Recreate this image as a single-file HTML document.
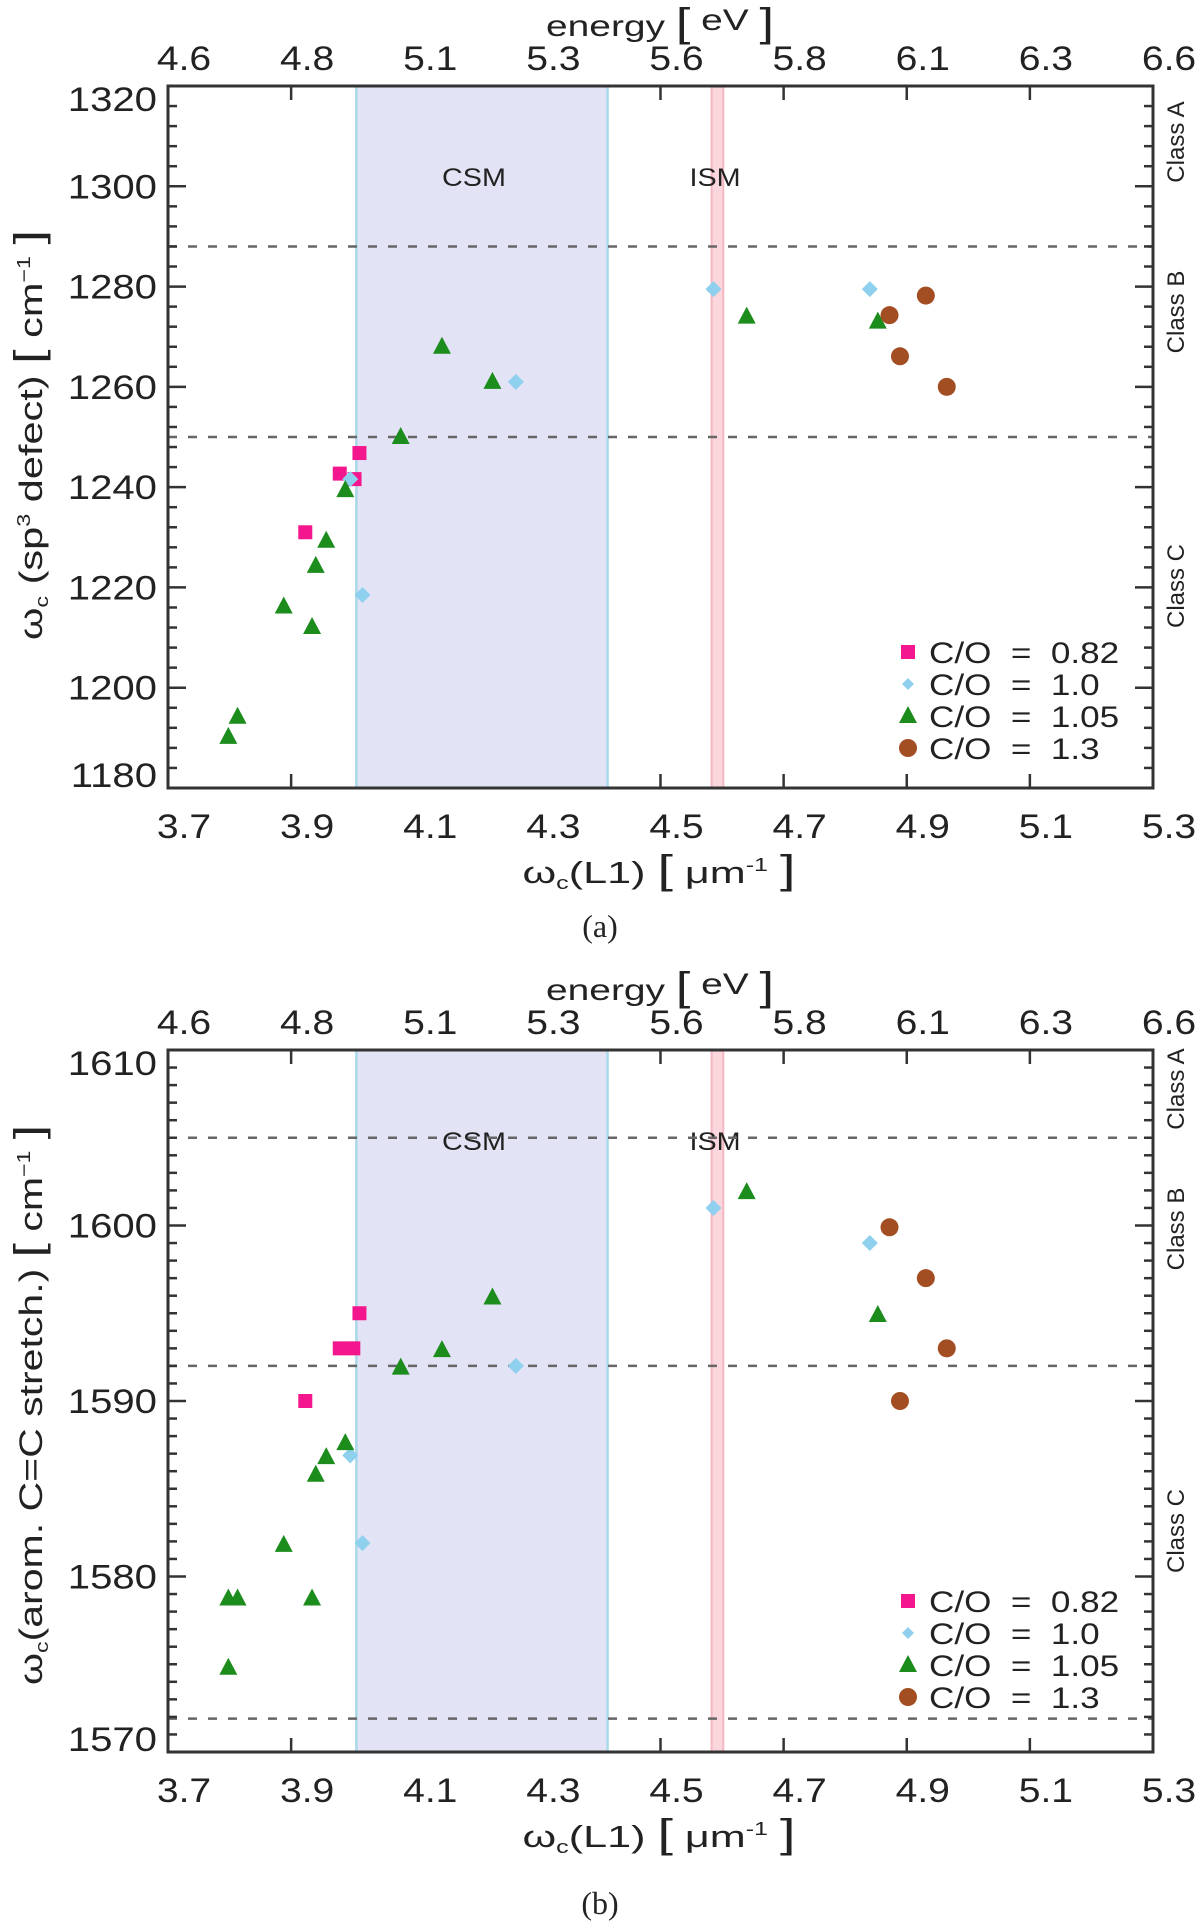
<!DOCTYPE html>
<html><head><meta charset="utf-8"><style>
html,body{margin:0;padding:0;background:#fff}
svg{display:block}
text{font-family:"Liberation Sans","DejaVu Sans",sans-serif;fill:#222}
</style></head><body>
<svg id="fig" width="1200" height="1922" viewBox="0 0 1200 1922" xmlns="http://www.w3.org/2000/svg"></svg>
<script>
// ---- data: panel (a) sp3 defect ----
const aPinkX=[4.011,3.979,4.003,3.923];
const aPinkY=[1246.8,1242.7,1241.6,1231];
const aBlueX=[3.996,4.016,4.265,4.586,4.840];
const aBlueY=[1241.6,1218.5,1261,1279.5,1279.5];
const aGreenX=[4.078,3.988,3.957,3.940,3.888,3.934,3.813,3.798,4.145,4.227,4.640,4.853];
const aGreenY=[1250,1239.4,1229.3,1224.3,1216.2,1212.1,1194.2,1190.2,1268,1261,1274,1273];
const aBrownX=[4.931,4.872,4.889,4.965];
const aBrownY=[1278.2,1274.3,1266.1,1260];
// ---- data: panel (b) arom C=C stretch ----
const bPinkX=[4.011,3.979,4.001,3.923];
const bPinkY=[1595,1593,1593,1590];
const bBlueX=[3.996,4.016,4.265,4.586,4.840];
const bBlueY=[1586.9,1581.9,1592,1601,1599];
const bGreenX=[3.988,3.957,3.940,3.888,3.798,3.813,3.934,3.798,4.078,4.145,4.227,4.640,4.853];
const bGreenY=[1587.6,1586.8,1585.8,1581.8,1578.75,1578.75,1578.75,1574.8,1591.9,1592.9,1595.9,1601.9,1594.9];
const bBrownX=[4.872,4.931,4.965,4.889];
const bBrownY=[1599.9,1597,1593,1590];
// axis ticks / labels
const xTicks=[3.7,3.9,4.1,4.3,4.5,4.7,4.9,5.1,5.3];
const xTickLabels=["3.7","3.9","4.1","4.3","4.5","4.7","4.9","5.1","5.3"];
const eTickLabels=["4.6","4.8","5.1","5.3","5.6","5.8","6.1","6.3","6.6"];
const aYTicks=[1180,1200,1220,1240,1260,1280,1300,1320];
const bYTicks=[1570,1580,1590,1600,1610];
const aDashed=[1288,1250];
const bDashed=[1605,1592,1571.9];
const csmRange=[4.006,4.414];
const ismRange=[4.583,4.602];
const legendLabels=["C/O  =  0.82","C/O  =  1.0","C/O  =  1.05","C/O  =  1.3"];

const NS="http://www.w3.org/2000/svg";
const svg=document.getElementById('fig');
function mk(tag,attrs,parent){const e=document.createElementNS(NS,tag);for(const k in attrs)e.setAttribute(k,attrs[k]);(parent||svg).appendChild(e);return e;}
const X0=168,X1=1153;
function xs(v){return X0+(v-3.7)*(X1-X0)/1.6;}
const colors={pink:"#f4168c",blue:"#8fd0ee",green:"#1c8c1c",brown:"#a24e22"};
function stext(g,x,y,size,anchor,sx,content){
  const t=mk('text',{x:0,y:0,"font-size":size,"text-anchor":anchor,transform:`translate(${x},${y}) scale(${sx},1)`},g);
  t.textContent=content;t.style.whiteSpace='pre';return t;
}

function marker(g,type,cx,cy){
  let e;
  if(type==='pink'){e=mk('rect',{x:cx-7,y:cy-7,width:14,height:14,fill:colors.pink},g);}
  else if(type==='blue'){e=mk('polygon',{points:`${cx},${cy-8} ${cx+8},${cy} ${cx},${cy+8} ${cx-8},${cy}`,fill:colors.blue},g);}
  else if(type==='green'){e=mk('polygon',{points:`${cx},${cy-10} ${cx+9},${cy+7} ${cx-9},${cy+7}`,fill:colors.green},g);}
  else {e=mk('circle',{cx:cx,cy:cy,r:9,fill:colors.brown},g);}
  return e;
}

function panel(cfg){
  const g=mk('g',{});
  
  
  const T=cfg.top,B=cfg.bot;
  const ys=v=>B-(v-cfg.ymin)*(B-T)/(cfg.ymax-cfg.ymin);
  // x ticks (drawn under bands)
  xTicks.forEach(v=>{const p=xs(v);mk('line',{x1:p,x2:p,y1:B,y2:B-14,stroke:"#333","stroke-width":2.5},g);mk('line',{x1:p,x2:p,y1:T,y2:T+14,stroke:"#333","stroke-width":2.5},g);});
  const csm=mk('rect',{x:xs(csmRange[0]),y:T,width:xs(csmRange[1])-xs(csmRange[0]),height:B-T,fill:"#e3e3f6",stroke:"#a9d8ea","stroke-width":2.5},g);
  
  
  const ism=mk('rect',{x:xs(ismRange[0]),y:T,width:xs(ismRange[1])-xs(ismRange[0]),height:B-T,fill:"#fbd6dc",stroke:"#f5b8c2","stroke-width":2},g);
  
  
  let t=stext(g,474,T+100,25,"middle",1.15,"CSM");
  
  
  t=stext(g,715,T+100,25,"middle",1.15,"ISM");
  
  
  cfg.dashed.forEach(v=>{const l=mk('line',{x1:X0,x2:X1,y1:ys(v),y2:ys(v),stroke:"#666","stroke-width":2.5,"stroke-dasharray":"9 11"},g);
    
    });
  for(let v=cfg.ymin;v<=cfg.ymax+1e-6;v+=cfg.minor){
    const y=ys(v);const major=cfg.yTicks.some(m=>Math.abs(m-v)<1e-6);const L=major?18:9;
    mk('line',{x1:X0,x2:X0+L,y1:y,y2:y,stroke:"#333","stroke-width":2.5},g);
    mk('line',{x1:X1,x2:X1-L,y1:y,y2:y,stroke:"#333","stroke-width":2.5},g);
  }
  cfg.yTicks.forEach((v,i)=>{let y=ys(v)+12;if(i===0)y=ys(v)-1;if(i===cfg.yTicks.length-1)y=ys(v)+25;
    const tx=stext(g,157,y,34,"end",1.18,String(v));
    
    });
  xTickLabels.forEach((s,i)=>{const tx=stext(g,xs(xTicks[i])+16,B+50,34,"middle",1.15,s);
    
    });
  eTickLabels.forEach((s,i)=>{const tx=stext(g,xs(xTicks[i])+16,T-16,34,"middle",1.15,s);
    
    });
  const fr=mk('rect',{x:X0,y:T,width:X1-X0,height:B-T,fill:"none",stroke:"#333","stroke-width":3},g);
  
  
  t=mk('text',{x:660,y:T-50,"font-size":30,"text-anchor":"middle",textLength:228,lengthAdjust:"spacingAndGlyphs"},g);
  t.innerHTML='energy <tspan font-size="40">[</tspan> <tspan dy="-6">eV</tspan> <tspan dy="6" font-size="40">]</tspan>';
  
  
  t=mk('text',{x:659,y:B+95,"font-size":31,"text-anchor":"middle",textLength:273,lengthAdjust:"spacingAndGlyphs"},g);
  t.innerHTML='ω<tspan font-size="18" dy="6">c</tspan><tspan dy="-6">(L1)</tspan> <tspan font-size="40">[</tspan> μm<tspan font-size="18" dy="-12">-1</tspan><tspan dy="12"> </tspan><tspan font-size="40">]</tspan>';
  
  
  t=mk('text',{x:0,y:0,"font-size":32,"text-anchor":"middle",textLength:cfg.yTitleLen,lengthAdjust:"spacingAndGlyphs",transform:`translate(42,${cfg.yTitleY}) rotate(-90)`},g);
  t.innerHTML=cfg.yTitle;
  
  
  t=mk('text',{x:600,y:cfg.capY,"font-size":32,"text-anchor":"middle",style:"font-family:'Liberation Serif',serif"},g);
  t.textContent=cfg.cap;
  
  
  cfg.classes.forEach(c=>{const tx=mk('text',{x:0,y:0,"font-size":24,"text-anchor":"middle",transform:`translate(1184,${c[1]}) rotate(-90)`},g);tx.textContent=c[0];
    
    });
  const series=[['pink',cfg.pX,cfg.pY],['blue',cfg.bX,cfg.bY],['green',cfg.gX,cfg.gY],['brown',cfg.rX,cfg.rY]];
  series.forEach(s=>{s[1].forEach((v,i)=>{const m=marker(g,s[0],xs(v),ys(s[2][i]));
    
    });});
  legendLabels.forEach((s,i)=>{const y=cfg.legY+i*32;const m=marker(g,['pink','blue','green','brown'][i],908,y);
    if(i===1){m.setAttribute('transform',`translate(908,${y}) scale(0.75) translate(-908,${-y})`);}
    
    
    const tx=stext(g,929,y+11,30,"start",1.17,s);
    
    });
}

panel({name:'panel-a',top:86,bot:788,ymin:1180,ymax:1320,minor:4,yTicks:aYTicks,dashed:aDashed,
  pX:aPinkX,pY:aPinkY,bX:aBlueX,bY:aBlueY,gX:aGreenX,gY:aGreenY,rX:aBrownX,rY:aBrownY,
  legY:652,cap:'(a)',capY:937,yTitleY:435,yTitleLen:410,
  yTitle:'ω<tspan font-size="18" dy="6">c</tspan><tspan dy="-6">  (sp</tspan><tspan font-size="18" dy="-12">3</tspan><tspan dy="12">  defect)  </tspan><tspan font-size="40">[</tspan>  cm<tspan font-size="18" dy="-12">−1</tspan><tspan dy="12">  </tspan><tspan font-size="40">]</tspan>',
  classes:[['Class A',142],['Class B',312],['Class C',586]]});
panel({name:'panel-b',top:1050,bot:1752,ymin:1570,ymax:1610,minor:1,yTicks:bYTicks,dashed:bDashed,
  pX:bPinkX,pY:bPinkY,bX:bBlueX,bY:bBlueY,gX:bGreenX,gY:bGreenY,rX:bBrownX,rY:bBrownY,
  legY:1601,cap:'(b)',capY:1914,yTitleY:1405,yTitleLen:560,
  yTitle:'ω<tspan font-size="18" dy="6">c</tspan><tspan dy="-6">(arom.  C=C  stretch.)  </tspan><tspan font-size="40">[</tspan>  cm<tspan font-size="18" dy="-12">−1</tspan><tspan dy="12">  </tspan><tspan font-size="40">]</tspan>',
  classes:[['Class A',1089],['Class B',1229],['Class C',1531]]});
</script>
</body></html>
